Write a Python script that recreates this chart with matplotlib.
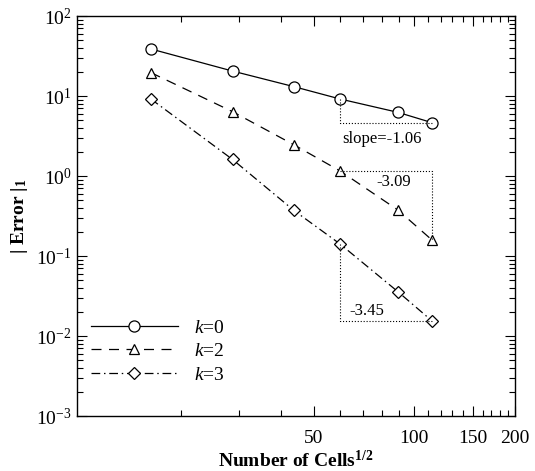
import matplotlib
matplotlib.use("Agg")
import matplotlib.pyplot as plt
from matplotlib.ticker import FixedLocator, NullFormatter, LogLocator, FixedFormatter
import numpy as np

plt.rcParams['font.family'] = ['Liberation Serif', 'DejaVu Serif']
plt.rcParams['mathtext.fontset'] = 'custom'
plt.rcParams['mathtext.rm'] = 'Liberation Serif'
plt.rcParams['mathtext.it'] = 'Liberation Serif:italic'
plt.rcParams['mathtext.bf'] = 'Liberation Serif:bold'

# Data
cells = [16.3, 28.6, 43.6, 60.0, 89.3, 113.0]
err_k0 = [38.7, 20.5, 13.1, 9.17, 6.25, 4.64]
err_k2 = [19.6, 6.37, 2.46, 1.155, 0.376, 0.158]
err_k3 = [9.17, 1.61, 0.372, 0.141, 0.0358, 0.0154]
labels = ['$k$=0', '$k$=2', '$k$=3']
slope_texts = ['slope=-1.06', '-3.09', '-3.45']
x_major = [50, 100, 150, 200]
x_major_labels = ['50', '100', '150', '200']

fig = plt.figure(figsize=(5.35, 4.71), dpi=100)
ax = fig.add_axes([77/535, 1 - 416/471, (515-77)/535, (416-16)/471])

ax.plot(cells, err_k0, 'k-', marker='o', mfc='white', mec='black', ms=8, mew=0.9, lw=0.9, label=labels[0])
ax.plot(cells, err_k2, 'k--', marker='^', mfc='white', mec='black', ms=7.5, mew=0.9, lw=0.9,
        dashes=(8, 6), label=labels[1])
ax.plot(cells, err_k3, 'k-.', marker='D', mfc='white', mec='black', ms=6, mew=0.9, lw=0.9,
        dashes=(7, 3, 1.2, 3), label=labels[2])

ax.set_xscale('log')
ax.set_yscale('log')
ax.set_xlim(9.8, 200)
ax.set_ylim(1e-3, 1e2)

# slope triangles (dotted)
dot = dict(color='black', lw=0.8, ls=':')
x1, x2 = cells[3], cells[5]
ax.plot([x1, x1, x2], [err_k0[3], err_k0[5], err_k0[5]], **dot)
ax.plot([x1, x2, x2], [err_k2[3], err_k2[3], err_k2[5]], **dot)
ax.plot([x1, x1, x2], [err_k3[3], err_k3[5], err_k3[5]], **dot)

ax.text(80, err_k0[5] * 0.78, slope_texts[0], ha='center', va='top', fontsize=12)
ax.text(87, err_k2[3] * 0.72, slope_texts[1], ha='center', va='center', fontsize=12)
ax.text(72, err_k3[5] * 1.32, slope_texts[2], ha='center', va='center', fontsize=12)

# ticks
ax.xaxis.set_major_locator(FixedLocator(x_major))
ax.xaxis.set_major_formatter(FixedFormatter(x_major_labels))
minor_x = [20, 30, 40, 60, 70, 80, 90, 110, 120, 130, 140, 160, 170, 180, 190]
ax.xaxis.set_minor_locator(FixedLocator(minor_x))
ax.xaxis.set_minor_formatter(NullFormatter())
yt = [1e-3, 1e-2, 1e-1, 1, 10, 100]
ax.yaxis.set_major_locator(FixedLocator(yt))
ax.yaxis.set_major_formatter(FixedFormatter([r'$10^{%d}$' % int(np.log10(v)) for v in yt]))
ax.yaxis.set_minor_locator(LogLocator(base=10, subs=np.arange(2, 10), numticks=20))
ax.yaxis.set_minor_formatter(NullFormatter())
ax.tick_params(which='both', direction='in', top=True, right=True, labelsize=14, width=0.8)
ax.tick_params(which='major', length=7)
ax.tick_params(which='minor', length=4)
ax.tick_params(axis='x', pad=10)
ax.tick_params(axis='y', pad=4)
for s in ax.spines.values():
    s.set_linewidth(1.0)

ax.set_xlabel(r'Number of Cells$^{\mathbf{1/2}}$', fontsize=14, fontweight='bold', labelpad=2)
ax.set_ylabel(r'| Error |$_{\mathbf{1}}$', fontsize=14, fontweight='bold', labelpad=4)

leg = ax.legend(loc='lower left', bbox_to_anchor=(0.0, 0.047), frameon=False, fontsize=14,
                handlelength=4.5, handletextpad=0.8, labelspacing=0.3, borderaxespad=0.3)

fig.savefig('out.png', dpi=100)
